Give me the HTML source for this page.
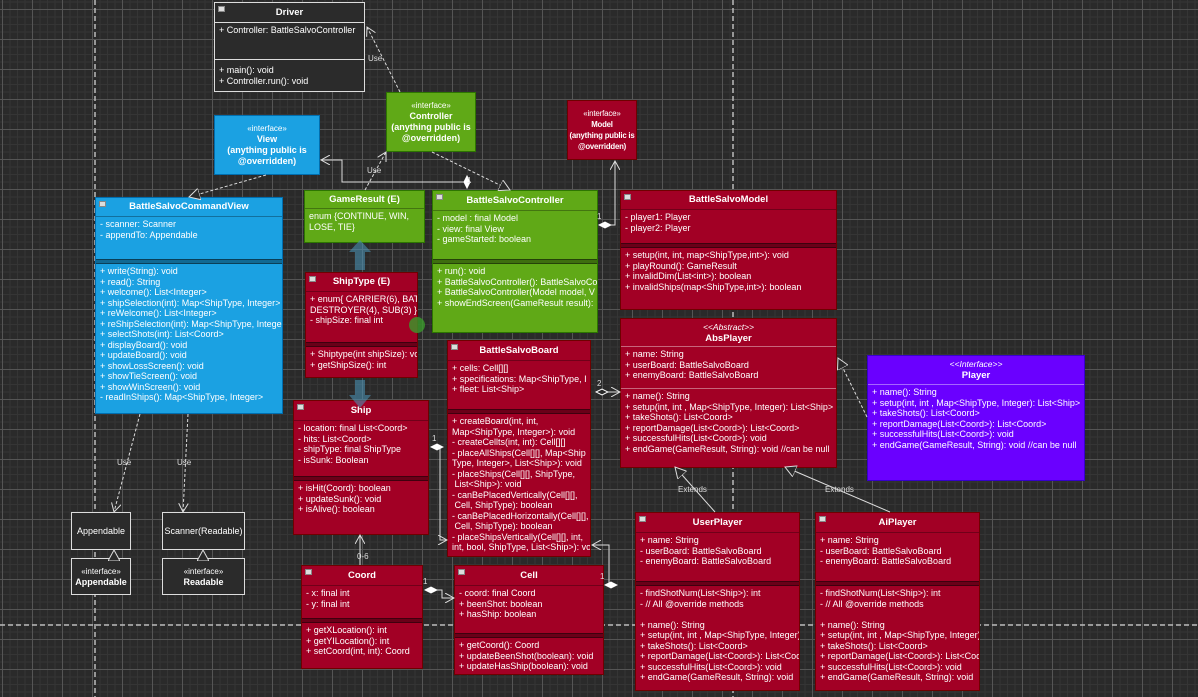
<!DOCTYPE html>
<html><head><meta charset="utf-8"><style>
*{margin:0;padding:0;box-sizing:border-box}
body{width:1198px;height:697px;overflow:hidden;position:relative;font-family:"Liberation Sans",sans-serif;color:#fff;font-size:9px;
background-color:#2a2a2a;
background-image:
linear-gradient(#555 1px,transparent 1px),linear-gradient(90deg,#555 1px,transparent 1px),
linear-gradient(#353535 1px,transparent 1px),linear-gradient(90deg,#353535 1px,transparent 1px);
background-size:30px 30px,30px 30px,7.5px 7.5px,7.5px 7.5px;background-position:2px 9px,2px 9px,2px 9px,2px 9px}
.b{position:absolute;border:1px solid;overflow:hidden}
.r{background:#a20025;border-color:#6f0000}
.g{background:#60a917;border-color:#2d7600}
.bl{background:#1ba1e2;border-color:#006eaf}
.p{background:#6a00ff;border-color:#3700cc}
.dk{background-color:#2b2b2b;border-color:#ddd;color:#fff}
.h{font-weight:bold;text-align:center;font-size:9.5px;position:relative;border-bottom:1px solid rgba(0,0,0,.3)}
.h i{position:absolute;left:3px;top:3px;width:7px;height:6px;background:#ddd;border:1px solid #888}
.s{padding:2px 4px;line-height:10.5px;white-space:nowrap}
.sep{height:5px;background:rgba(0,0,0,.35);border-top:1px solid rgba(0,0,0,.4);border-bottom:1px solid rgba(0,0,0,.4)}
.c{text-align:center;font-weight:bold;font-size:9px;line-height:11px;display:flex;flex-direction:column;justify-content:center;height:100%;white-space:nowrap}
.c small{font-weight:normal;font-size:8px}
.lbl{position:absolute;font-size:8px;color:#ddd}
svg{position:absolute;left:0;top:0}
</style></head><body>
<svg width="1198" height="697">
<g stroke="#bbb" stroke-width="1.5" stroke-dasharray="5,3" fill="none">
<line x1="95" y1="0" x2="95" y2="697"/><line x1="733" y1="0" x2="733" y2="697"/><line x1="0" y1="625" x2="1198" y2="625"/>
</g>
</svg>
<div class="b dk" style="left:214px;top:2px;width:151px;height:90px;background:#2b2b2b;color:#fff"><div class="h" style="height:20px;line-height:19px;border-color:#ddd"><i></i>Driver</div><div class="s" style="height:36px">+ Controller: BattleSalvoController</div><div style="border-top:1px solid #ddd;height:4px"></div><div class="s">+ main(): void<br>+ Controller.run(): void</div></div>
<div class="b g" style="left:386px;top:92px;width:90px;height:60px"><div class="c"><small>«interface»</small>Controller<br>(anything public is<br>@overridden)</div></div>
<div class="b bl" style="left:214px;top:115px;width:106px;height:60px"><div class="c"><small>«interface»</small>View<br>(anything public is<br>@overridden)</div></div>
<div class="b r" style="left:567px;top:100px;width:70px;height:60px"><div class="c" style="font-size:7.8px;letter-spacing:-0.2px"><small>«interface»</small>Model<br>(anything public is<br>@overridden)</div></div>

<div class="b bl" style="left:95px;top:197px;width:188px;height:217px"><div class="h" style="height:19px;line-height:18px"><i></i>BattleSalvoCommandView</div><div class="s" style="height:42px">- scanner: Scanner<br>- appendTo: Appendable</div><div class="sep"></div><div class="s">+ write(String): void<br>+ read(): String<br>+ welcome(): List&lt;Integer&gt;<br>+ shipSelection(int): Map&lt;ShipType, Integer&gt;<br>+ reWelcome(): List&lt;Integer&gt;<br>+ reShipSelection(int): Map&lt;ShipType, Intege<br>+ selectShots(int): List&lt;Coord&gt;<br>+ displayBoard(): void<br>+ updateBoard(): void<br>+ showLossScreen(): void<br>+ showTieScreen(): void<br>+ showWinScreen(): void<br>- readInShips(): Map&lt;ShipType, Integer&gt;</div></div>

<div class="b g" style="left:304px;top:190px;width:121px;height:53px"><div class="h" style="height:18px;line-height:17px">GameResult (E)</div><div class="s">enum {CONTINUE, WIN,<br>LOSE, TIE}</div></div>

<div class="b g" style="left:432px;top:190px;width:166px;height:143px"><div class="h" style="height:20px;line-height:19px"><i></i>BattleSalvoController</div><div class="s" style="height:48px">- model : final Model<br>- view: final View<br>- gameStarted: boolean</div><div class="sep"></div><div class="s">+ run(): void<br>+ BattleSalvoController(): BattleSalvoCo<br>+ BattleSalvoController(Model model, V<br>+ showEndScreen(GameResult result):</div></div>

<div class="b r" style="left:305px;top:272px;width:113px;height:106px"><div class="h" style="height:19px;line-height:18px"><i></i>ShipType (E)</div><div class="s" style="height:50px">+ enum{ CARRIER(6), BAT<br>DESTROYER(4), SUB(3) }<br>- shipSize: final int</div><div class="sep"></div><div class="s">+ Shiptype(int shipSize): vo<br>+ getShipSize(): int</div></div>

<div class="b r" style="left:620px;top:190px;width:217px;height:120px"><div class="h" style="height:19px;line-height:18px"><i></i>BattleSalvoModel</div><div class="s" style="height:33px">- player1: Player<br>- player2: Player</div><div class="sep"></div><div class="s">+ setup(int, int, map&lt;ShipType,int&gt;): void<br>+ playRound(): GameResult<br>+ invalidDim(List&lt;int&gt;): boolean<br>+ invalidShips(map&lt;ShipType,int&gt;): boolean</div></div>

<div class="b r" style="left:620px;top:318px;width:217px;height:150px"><div class="h" style="height:28px;line-height:11px;padding-top:3px;border-color:rgba(255,255,255,.4)"><span style="font-weight:normal;font-style:italic;font-size:8.5px">&lt;&lt;Abstract&gt;&gt;</span><br>AbsPlayer</div><div class="s" style="height:42px;border-bottom:1px solid rgba(255,255,255,.4)">+ name: String<br>+ userBoard: BattleSalvoBoard<br>+ enemyBoard: BattleSalvoBoard</div><div class="s">+ name(): String<br>+ setup(int, int , Map&lt;ShipType, Integer): List&lt;Ship&gt;<br>+ takeShots(): List&lt;Coord&gt;<br>+ reportDamage(List&lt;Coord&gt;): List&lt;Coord&gt;<br>+ successfulHits(List&lt;Coord&gt;): void<br>+ endGame(GameResult, String): void //can be null</div></div>

<div class="b p" style="left:867px;top:355px;width:218px;height:126px"><div class="h" style="height:29px;line-height:11px;padding-top:3px;border-color:rgba(255,255,255,.4)"><span style="font-weight:normal;font-style:italic;font-size:8.5px">&lt;&lt;Interface&gt;&gt;</span><br>Player</div><div class="s">+ name(): String<br>+ setup(int, int , Map&lt;ShipType, Integer): List&lt;Ship&gt;<br>+ takeShots(): List&lt;Coord&gt;<br>+ reportDamage(List&lt;Coord&gt;): List&lt;Coord&gt;<br>+ successfulHits(List&lt;Coord&gt;): void<br>+ endGame(GameResult, String): void //can be null</div></div>

<div class="b r" style="left:447px;top:340px;width:144px;height:217px"><div class="h" style="height:20px;line-height:19px"><i></i>BattleSalvoBoard</div><div class="s" style="height:48px">+ cells: Cell[][]<br>+ specifications: Map&lt;ShipType, I<br>+ fleet: List&lt;Ship&gt;</div><div class="sep"></div><div class="s">+ createBoard(int, int,<br>Map&lt;ShipType, Integer&gt;): void<br>- createCellts(int, int): Cell[][]<br>- placeAllShips(Cell[][], Map&lt;Ship<br>Type, Integer&gt;, List&lt;Ship&gt;): void<br>- placeShips(Cell[][], ShipType,<br>&nbsp;List&lt;Ship&gt;): void<br>- canBePlacedVertically(Cell[][],<br>&nbsp;Cell, ShipType): boolean<br>- canBePlacedHorizontally(Cell[][],<br>&nbsp;Cell, ShipType): boolean<br>- placeShipsVertically(Cell[][], int,<br>int, bool, ShipType, List&lt;Ship&gt;): vo</div></div>

<div class="b r" style="left:293px;top:400px;width:136px;height:135px"><div class="h" style="height:20px;line-height:19px"><i></i>Ship</div><div class="s" style="height:55px">- location: final List&lt;Coord&gt;<br>- hits: List&lt;Coord&gt;<br>- shipType: final ShipType<br>- isSunk: Boolean</div><div class="sep"></div><div class="s">+ isHit(Coord): boolean<br>+ updateSunk(): void<br>+ isAlive(): boolean</div></div>

<div class="b r" style="left:635px;top:512px;width:165px;height:179px"><div class="h" style="height:20px;line-height:19px"><i></i>UserPlayer</div><div class="s" style="height:48px">+ name: String<br>- userBoard: BattleSalvoBoard<br>- enemyBoard: BattleSalvoBoard</div><div class="sep"></div><div class="s">- findShotNum(List&lt;Ship&gt;): int<br>- // All @override methods<br><br>+ name(): String<br>+ setup(int, int , Map&lt;ShipType, Integer)<br>+ takeShots(): List&lt;Coord&gt;<br>+ reportDamage(List&lt;Coord&gt;): List&lt;Coo<br>+ successfulHits(List&lt;Coord&gt;): void<br>+ endGame(GameResult, String): void</div></div>

<div class="b r" style="left:815px;top:512px;width:165px;height:179px"><div class="h" style="height:20px;line-height:19px"><i></i>AiPlayer</div><div class="s" style="height:48px">+ name: String<br>- userBoard: BattleSalvoBoard<br>- enemyBoard: BattleSalvoBoard</div><div class="sep"></div><div class="s">- findShotNum(List&lt;Ship&gt;): int<br>- // All @override methods<br><br>+ name(): String<br>+ setup(int, int , Map&lt;ShipType, Integer)<br>+ takeShots(): List&lt;Coord&gt;<br>+ reportDamage(List&lt;Coord&gt;): List&lt;Coo<br>+ successfulHits(List&lt;Coord&gt;): void<br>+ endGame(GameResult, String): void</div></div>

<div class="b r" style="left:301px;top:565px;width:122px;height:104px"><div class="h" style="height:20px;line-height:19px"><i></i>Coord</div><div class="s" style="height:32px">- x: final int<br>- y: final int</div><div class="sep"></div><div class="s">+ getXLocation(): int<br>+ getYILocation(): int<br>+ setCoord(int, int): Coord</div></div>

<div class="b r" style="left:454px;top:565px;width:150px;height:110px"><div class="h" style="height:20px;line-height:19px"><i></i>Cell</div><div class="s" style="height:47px">- coord: final Coord<br>+ beenShot: boolean<br>+ hasShip: boolean</div><div class="sep"></div><div class="s">+ getCoord(): Coord<br>+ updateBeenShot(boolean): void<br>+ updateHasShip(boolean): void</div></div>

<div class="b dk" style="left:71px;top:512px;width:60px;height:38px;background:#2b2b2b;color:#fff;font-size:9px;text-align:center;line-height:36px">Appendable</div>
<div class="b dk" style="left:162px;top:512px;width:83px;height:38px;background:#2b2b2b;color:#fff;font-size:9px;text-align:center;line-height:36px">Scanner(Readable)</div>
<div class="b dk" style="left:71px;top:558px;width:60px;height:37px;background:#2b2b2b;color:#fff;text-align:center;font-weight:bold;line-height:11px;padding-top:7px"><span style="font-weight:normal;font-size:8px">«interface»</span><br>Appendable</div>
<div class="b dk" style="left:162px;top:558px;width:83px;height:37px;background:#2b2b2b;color:#fff;text-align:center;font-weight:bold;line-height:11px;padding-top:7px"><span style="font-weight:normal;font-size:8px">«interface»</span><br>Readable</div>

<svg width="1198" height="697">
<defs>
<marker id="oa" markerWidth="10" markerHeight="10" refX="9" refY="5" orient="auto" markerUnits="userSpaceOnUse"><path d="M0,0 L9,5 L0,10" fill="none" stroke="#ddd"/></marker>
<marker id="tr" markerWidth="12" markerHeight="12" refX="11" refY="6" orient="auto" markerUnits="userSpaceOnUse"><path d="M0,0 L11,6 L0,12 Z" fill="#2a2a2a" stroke="#ddd"/></marker>
<marker id="dm" markerWidth="14" markerHeight="8" refX="1" refY="4" orient="auto" markerUnits="userSpaceOnUse"><path d="M1,4 L7,1 L13,4 L7,7 Z" fill="#fff" stroke="#fff"/></marker>
<marker id="dmo" markerWidth="14" markerHeight="8" refX="1" refY="4" orient="auto" markerUnits="userSpaceOnUse"><path d="M1,4 L7,1 L13,4 L7,7 Z" fill="#2a2a2a" stroke="#fff"/></marker>
</defs>
<g fill="none" stroke="#ddd" stroke-width="1">
<path d="M400,92 L367,27" stroke-dasharray="3,2" marker-end="url(#oa)"/>
<path d="M365,190 L386,152" stroke-dasharray="3,2" marker-end="url(#oa)"/>
<path d="M467,188 L467,182 L342,182 L342,160 L321,160" marker-start="url(#dm)" marker-end="url(#oa)"/>
<path d="M432,152 L510,190" stroke-dasharray="3,2" marker-end="url(#tr)"/>
<path d="M266,175 L189,197" stroke-dasharray="3,2" marker-end="url(#tr)"/>
<path d="M599,225 L615,225 L615,161" marker-start="url(#dm)" marker-end="url(#oa)"/>
<path d="M867,417 L838,358" stroke-dasharray="3,2" marker-end="url(#tr)"/>
<path d="M715,512 L675,467" marker-end="url(#tr)"/>
<path d="M890,512 L785,467" marker-end="url(#tr)"/>
<path d="M596,392 L620,392" marker-start="url(#dmo)" marker-end="url(#oa)"/>
<path d="M431,447 L440,447 L440,540 L447,540" marker-start="url(#dm)" marker-end="url(#oa)"/>
<path d="M360,565 L360,535" marker-end="url(#oa)"/>
<path d="M425,590 L442,590 L442,598 L454,598" marker-start="url(#dm)" marker-end="url(#oa)"/>
<path d="M605,585 L609,585 L609,560 L609,545 L592,545" marker-start="url(#dm)" marker-end="url(#oa)"/>
<path d="M140,414 L114,512" stroke-dasharray="3,2" marker-end="url(#oa)"/>
<path d="M188,414 L183,512" stroke-dasharray="3,2" marker-end="url(#oa)"/>
<path d="M114,558 L114,550" marker-end="url(#tr)"/>
<path d="M203,558 L203,550" marker-end="url(#tr)"/>
</g>
<path d="M355,270 L355,252 L349,252 L360,240 L371,252 L365,252 L365,270 Z" fill="#4a8fb0" opacity=".6"/>
<path d="M355,380 L355,395 L349,395 L360,408 L371,395 L365,395 L365,380 Z" fill="#4a8fb0" opacity=".6"/>
<circle cx="417" cy="325" r="8" fill="#3a9a2a" opacity=".8"/>
</svg>
<div class="lbl" style="left:368px;top:54px">Use</div>
<div class="lbl" style="left:367px;top:166px">Use</div>
<div class="lbl" style="left:117px;top:458px">Use</div>
<div class="lbl" style="left:177px;top:458px">Use</div>
<div class="lbl" style="left:678px;top:485px">Extends</div>
<div class="lbl" style="left:825px;top:485px">Extends</div>
<div class="lbl" style="left:467px;top:176px">1</div>
<div class="lbl" style="left:597px;top:212px">1</div>
<div class="lbl" style="left:597px;top:379px">2</div>
<div class="lbl" style="left:432px;top:434px">1</div>
<div class="lbl" style="left:357px;top:552px">0-6</div>
<div class="lbl" style="left:423px;top:577px">1</div>
<div class="lbl" style="left:600px;top:572px">1</div>
</body></html>
